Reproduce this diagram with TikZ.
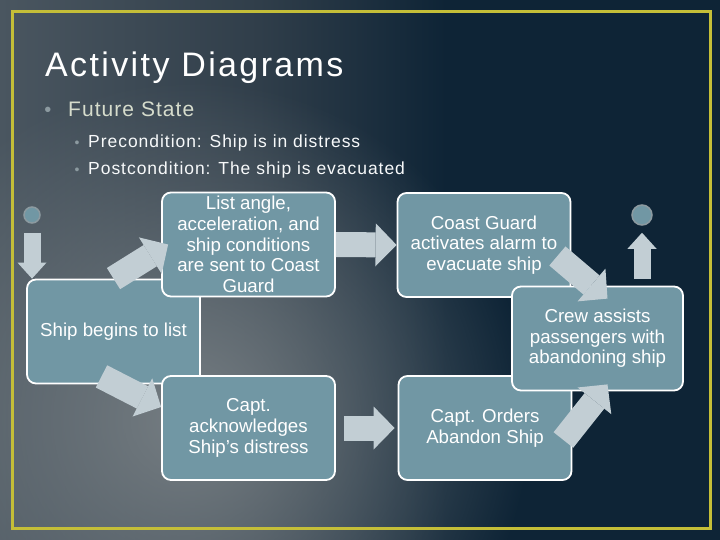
\documentclass[tikz,border=0pt]{standalone}
\usepackage{fontspec}
\setmainfont{Liberation Sans}
\usetikzlibrary{arrows.meta,fadings}

\definecolor{bgleft}{RGB}{74,86,96}
\definecolor{bgmid}{RGB}{48,62,74}
\definecolor{bgdark}{RGB}{14,36,54}
\definecolor{bgglow}{RGB}{118,126,131}
\definecolor{frameyellow}{RGB}{196,190,56}
\definecolor{boxteal}{RGB}{113,151,164}
\definecolor{flowgray}{RGB}{194,206,212}
\definecolor{subhead}{RGB}{214,220,204}
\definecolor{dotgray}{RGB}{140,154,160}

\pgfdeclarehorizontalshading{slidebg}{100bp}{color(0bp)=(bgleft); color(25bp)=(bgleft); color(43bp)=(bgmid); color(56bp)=(bgdark); color(100bp)=(bgdark)}
\tikzfading[name=glow, inner color=transparent!0, outer color=transparent!100]

\begin{document}
\begin{tikzpicture}[x=1pt, y=-1pt,
        act/.style={draw=white, line width=1.8pt, fill=boxteal, rounded corners=9pt,
            minimum width=173pt, minimum height=104pt, inner sep=0pt, text=white,
            align=center, font=\fontsize{18.7}{20.6}\selectfont},
        flow/.style={draw=flowgray, line width=25pt,
            -{Triangle[length=21pt,width=43pt,line width=0pt]}},
        endflow/.style={flow, line width=17pt,
            -{Triangle[length=16pt,width=29pt,line width=0pt]}},
        state/.style={circle, inner sep=0pt, fill=boxteal, draw=dotgray, line width=1.5pt},
        dot/.style={anchor=base, inner sep=0pt, text=dotgray},
        heading/.style={anchor=base west, inner sep=0pt, text=white,
            font=\fontsize{34}{40}\selectfont\addfontfeature{LetterSpace=7}},
        lead/.style={anchor=base west, inner sep=0pt, text=subhead,
            font=\fontsize{21}{25}\selectfont\addfontfeature{LetterSpace=5}},
        point/.style={anchor=base west, inner sep=0pt, text=white!94!boxteal,
            font=\fontsize{17.5}{21}\selectfont\addfontfeature{LetterSpace=5.5}}]

        \useasboundingbox (0,0) rectangle (720,540);
        \begin{scope}
            \clip (0,0) rectangle (720,540);
            \shade[shading=slidebg] (0,0) rectangle (720,540);
            \fill[bgglow, path fading=glow] (190,420) circle (340);
        \end{scope}
        \draw[frameyellow, line width=3pt] (12,12) rectangle (710,528);

        \node[heading] (title) at (45,77) {Activity Diagrams};
        \node[dot, font=\fontsize{20}{24}\selectfont] (b0) at (48,117) {\textbullet};
        \node[lead] (future) at (68,117) {Future State};
        \foreach \y/\t/\n in {148/Precondition: Ship is in distress/pre,
                              175/Postcondition: The ship is evacuated/post}
        {
            \node[dot, font=\fontsize{14}{16}\selectfont] (b\n) at (77,\y) {\textbullet};
            \node[point] (\n) at (88,\y) {\t};
        }

        \node[act] (ship) at (113.5,331.5) {Ship begins to list};
        \node[act] (list) at (248.5,244.5) {List angle,\\acceleration, and\\ship conditions\\are sent to Coast\\Guard};
        \node[act] (capt) at (248.5,428) {Capt.\\acknowledges\\Ship’s distress};
        \node[act] (coast) at (484,245) {Coast Guard\\activates alarm to\\evacuate ship};
        \node[act] (orders) at (485,428) {Capt. Orders\\Abandon Ship};
        \node[act, minimum width=171pt] (crew) at (597.5,338.5) {Crew assists\\passengers with\\abandoning ship};

        \node[state, minimum size=16pt] (start) at (32,215) {};
        \node[state, minimum size=20pt] (finish) at (642,215) {};

        \draw[endflow, shorten <=9pt] (start.south) -- (start |- ship.north);
        \draw[flow] (ship.north) -- ([xshift=7pt]list.west);
        \draw[flow] (list.east) -- (coast.west);
        \draw[flow] ([shift={(-14,11)}]coast.east) -- ([shift={(10,13)}]crew.north);
        \draw[endflow, shorten <=7pt, shorten >=7pt] (crew.north -| finish) -- (finish.south);
        \draw[flow] ([shift={(-12,-8)}]ship.south) -- ([shift={(0,-21)}]capt.west);
        \draw[flow, shorten <=8pt, shorten >=3pt] (capt.east) -- (orders.west);
        \draw[flow] ([shift={(-9,12)}]orders.east) -- ([shift={(10,-7)}]crew.south);
\end{tikzpicture}
\end{document}
